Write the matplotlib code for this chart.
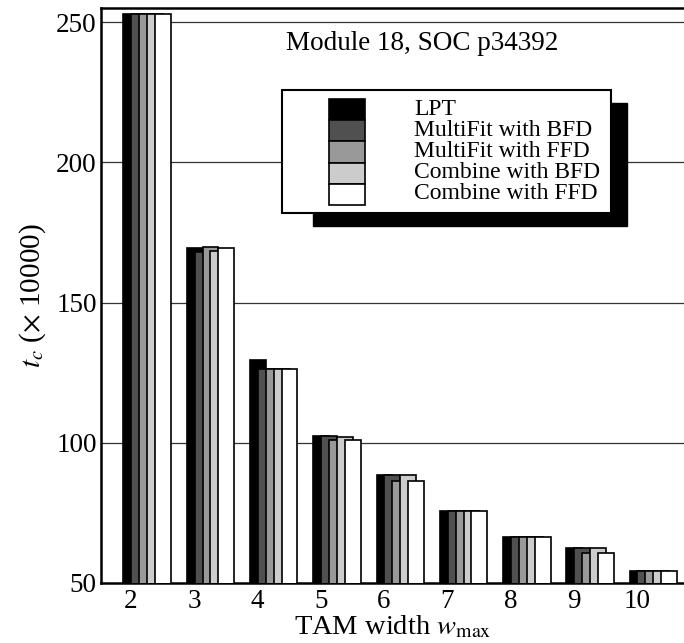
"""
Test time per TAM width for Module 18 of SOC p34392, five scheduling heuristics.
"""

import matplotlib
matplotlib.use('Agg')
import matplotlib.pyplot as plt
from matplotlib.patches import Rectangle

# TAM widths (x categories)
tam_widths = [2, 3, 4, 5, 6, 7, 8, 9, 10]

# test time t_c (x 10000)
lpt = [253.0, 169.5, 129.4, 102.5, 88.6, 75.6, 66.3, 62.4, 54.4]
multifit_bfd = [253.0, 168.1, 126.4, 102.3, 88.6, 75.6, 66.3, 62.4, 54.4]
multifit_ffd = [253.0, 169.7, 126.4, 101.1, 86.2, 75.6, 66.3, 60.8, 54.4]
combine_bfd = [253.0, 168.3, 126.4, 102.0, 88.6, 75.6, 66.3, 62.4, 54.4]
combine_ffd = [253.0, 169.4, 126.4, 101.1, 86.2, 75.6, 66.3, 60.8, 54.4]

series_labels = ["LPT", "MultiFit with BFD", "MultiFit with FFD",
                 "Combine with BFD", "Combine with FFD"]
y_ticks = [50, 100, 150, 200, 250]

plt.rcParams['font.family'] = ['Liberation Serif', 'DejaVu Serif']
plt.rcParams['mathtext.fontset'] = 'stix'


def px_x(x):
    return x / 684.0


def px_y(y):
    return 1.0 - y / 643.0


def main():
    series = [lpt, multifit_bfd, multifit_ffd, combine_bfd, combine_ffd]
    colors = ['#000000', '#505050', '#999999', '#cccccc', '#ffffff']

    fig = plt.figure(figsize=(6.84, 6.43), dpi=100)
    ax = fig.add_axes([px_x(101), px_y(583), 1.0 - px_x(101), px_y(8) - px_y(583)])

    # overlapping bars, each shifted a bit to the right of the previous one
    step = 0.125
    width = 0.25
    for i, (vals, col) in enumerate(zip(series, colors)):
        lefts = [w - 0.12 + i * step for w in tam_widths]
        ax.bar(lefts, vals, width=width, align='edge', color=col,
               edgecolor='black', linewidth=1.2, zorder=3 + i)

    ax.set_xlim(1.525, 10.74)
    ax.set_ylim(50, 255)
    ax.set_xticks(tam_widths)
    ax.set_yticks(y_ticks)
    ax.tick_params(length=0, labelsize=19.5, pad=3)
    ax.tick_params(axis='x', pad=4)

    for y in y_ticks[1:]:
        ax.axhline(y, color='#333333', linewidth=0.9, zorder=1)

    ax.spines['right'].set_visible(False)
    for side in ('left', 'top', 'bottom'):
        ax.spines[side].set_linewidth(1.8)

    ax.set_xlabel(r"TAM width $w_{\rm max}$", fontsize=20.5, labelpad=0)
    ax.set_ylabel(r"$t_c$ ($\times$ 10000)", fontsize=21, labelpad=6)

    fig.text(px_x(422), px_y(44), "Module 18, SOC p34392", fontsize=19.5,
             ha='center', va='center')

    # hand-made legend box with solid black drop shadow
    shadow = Rectangle((px_x(313), px_y(226)), px_x(627) - px_x(313),
                       px_y(103) - px_y(226), transform=fig.transFigure,
                       facecolor='black', edgecolor='black', zorder=20)
    box = Rectangle((px_x(282), px_y(213)), px_x(611) - px_x(282),
                    px_y(90) - px_y(213), transform=fig.transFigure,
                    facecolor='white', edgecolor='black', linewidth=1.5, zorder=21)
    fig.patches.extend([shadow, box])

    sw_h = 21.2
    for i, (label, col) in enumerate(zip(series_labels, colors)):
        top = 99 + i * sw_h
        sw = Rectangle((px_x(329), px_y(top + sw_h)), px_x(365) - px_x(329),
                       px_y(top) - px_y(top + sw_h), transform=fig.transFigure,
                       facecolor=col, edgecolor='black', linewidth=1.2, zorder=22)
        fig.patches.append(sw)
        fig.text(px_x(414), px_y(top + sw_h / 2 - 0.5), label, fontsize=17,
                 ha='left', va='center', zorder=23)

    fig.savefig('out.png', dpi=100)
    plt.close(fig)


if __name__ == "__main__":
    main()
